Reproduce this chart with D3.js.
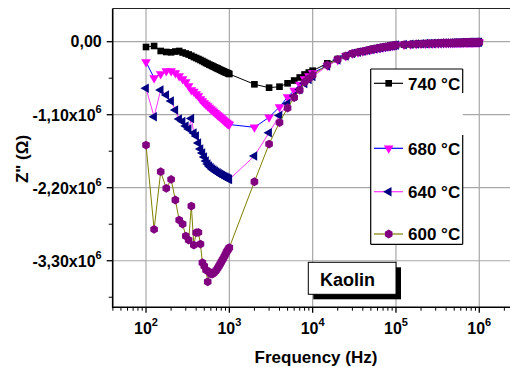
<!DOCTYPE html>
<html><head><meta charset="utf-8">
<script src="https://cdn.jsdelivr.net/npm/d3@7/dist/d3.min.js"></script>
<style>
body{margin:0;background:#fff;}
text{font-family:"Liberation Sans",Arial,sans-serif;font-weight:bold;fill:#000;}
</style></head><body>
<svg id="c" width="510" height="367"></svg>
<script>
// ---------- data (Z'' in units of 10^6 Ohm) ----------
const freqLow = [100,125,150,175,200,225,250,275,300,325,350,375,400,425,450,475,500,525,550,575,600,625,650,675,700,725,750,775,800,825,850,875,900,925,950,975,1000];
const freqMid = [2000,3000,4000,5000,6000,7000,8000,9000,10000,15000,20000];
const freqHigh = [25000,30000,35000,40000,45000,50000,55000,60000,65000,70000,75000,80000,85000,90000,95000,100000,
  125000,150000,175000,200000,225000,250000,275000,300000,325000,350000,375000,400000,425000,450000,475000,500000,
  525000,550000,575000,600000,625000,650000,675000,700000,725000,750000,775000,800000,825000,850000,875000,900000,925000,950000,975000,1000000];

const z740Low = [-0.080,-0.065,-0.140,-0.155,-0.160,-0.148,-0.140,-0.163,-0.178,-0.193,-0.212,-0.231,-0.246,-0.261,-0.276,-0.291,-0.306,-0.321,-0.333,-0.345,-0.356,-0.366,-0.377,-0.387,-0.396,-0.405,-0.414,-0.423,-0.431,-0.439,-0.446,-0.454,-0.461,-0.467,-0.473,-0.479,-0.487];
const z740Mid = [-0.642,-0.693,-0.678,-0.627,-0.585,-0.539,-0.494,-0.464,-0.437,-0.326,-0.261];

const z680Low = [-0.306,-0.547,-0.487,-0.442,-0.442,-0.472,-0.517,-0.562,-0.607,-0.668,-0.728,-0.750,-0.788,-0.818,-0.863,-0.894,-0.924,-0.946,-0.969,-0.992,-1.014,-1.034,-1.052,-1.070,-1.089,-1.105,-1.120,-1.135,-1.150,-1.165,-1.180,-1.195,-1.207,-1.219,-1.230,-1.240,-1.248];
const z680Mid = [-1.290,-1.139,-0.984,-0.833,-0.735,-0.645,-0.562,-0.517,-0.472,-0.359,-0.276];

const z640Low = [-0.702,-1.130,-0.728,-0.803,-0.894,-1.029,-1.165,-1.203,-1.270,-1.316,-1.157,-1.376,-1.421,-1.527,-1.617,-1.677,-1.737,-1.798,-1.843,-1.873,-1.896,-1.918,-1.933,-1.948,-1.963,-1.976,-1.986,-1.998,-2.009,-2.018,-2.027,-2.036,-2.043,-2.051,-2.058,-2.066,-2.074];
const z640Mid = [-1.722,-1.371,-1.112,-0.931,-0.818,-0.720,-0.630,-0.570,-0.524,-0.366,-0.276];

const z600Low = [-1.557,-2.827,-1.959,-2.209,-2.074,-2.385,-2.687,-2.747,-2.928,-2.988,-2.476,-3.064,-2.878,-2.872,-3.049,-3.330,-3.380,-3.440,-3.617,-3.470,-3.501,-3.501,-3.486,-3.463,-3.440,-3.410,-3.380,-3.350,-3.320,-3.290,-3.260,-3.230,-3.200,-3.169,-3.146,-3.124,-3.101];
const z600Mid = [-2.110,-1.542,-1.218,-0.999,-0.841,-0.728,-0.607,-0.555,-0.502,-0.351,-0.265];

// high-frequency tail where all four curves coincide
const zHigh = [-0.215,-0.178,-0.158,-0.145,-0.130,-0.118,-0.107,-0.098,-0.090,-0.083,-0.077,-0.071,-0.065,-0.060,-0.056,-0.051,
  -0.044,-0.039,-0.035,-0.032,-0.029,-0.027,-0.026,-0.024,-0.023,-0.021,-0.020,-0.020,-0.019,-0.018,-0.018,-0.017,
  -0.016,-0.015,-0.015,-0.014,-0.013,-0.012,-0.012,-0.012,-0.011,-0.011,-0.011,-0.011,-0.010,-0.009,-0.009,-0.009,-0.009,-0.008,-0.008,-0.008];

const seriesNames = ["740 °C","680 °C","640 °C","600 °C"];
const xTickValues = [1e2,1e3,1e4,1e5,1e6];
const xTickExp = ["2","3","4","5","6"];
const yTickValues = [0,-1.1,-2.2,-3.3];
const yTickLabels = ["0,00","-1,10x10","-2,20x10","-3,30x10"];
const yTickSup = ["","6","6","6"];

// ---------- build ----------
const freqs = freqLow.concat(freqMid, freqHigh);
function mk(low, mid){ const z = low.concat(mid, zHigh); return freqs.map((f,i)=>({f:f, z:z[i]})); }
const series = [
  {name:seriesNames[0], data:mk(z740Low,z740Mid), line:"#000000", fill:"#000000", shape:"square"},
  {name:seriesNames[1], data:mk(z680Low,z680Mid), line:"#0000ff", fill:"#ff00ff", shape:"down"},
  {name:seriesNames[2], data:mk(z640Low,z640Mid), line:"#ff33ff", fill:"#000080", shape:"left"},
  {name:seriesNames[3], data:mk(z600Low,z600Mid), line:"#808000", fill:"#800080", shape:"hex"}
];

const svg = d3.select("#c");
const L = 112.7, R = 512.6, T = 8.5, B = 307.2;
const x = d3.scaleLog().domain([Math.pow(10,1.6), Math.pow(10,6.4)]).range([L, R]);
const y = d3.scaleLinear().domain([0.5, -4.0]).range([T, B]);

// grid
const grid = svg.append("g").attr("stroke","#a8a8a8").attr("stroke-width",1.2);
xTickValues.forEach(v=>grid.append("line").attr("x1",x(v)).attr("x2",x(v)).attr("y1",T).attr("y2",B));
yTickValues.forEach(v=>grid.append("line").attr("x1",L).attr("x2",R).attr("y1",y(v)).attr("y2",y(v)));

// markers
function markerPath(shape){
  if(shape==="square") return d3.symbol(d3.symbolSquare, 44)();
  if(shape==="down" || shape==="left") return d3.symbol(d3.symbolTriangle, 40)();
  const p = d3.path(); const r = 4.4;
  for(let k=0;k<6;k++){ const a = Math.PI/6 + k*Math.PI/3; const px=r*Math.cos(a), py=r*Math.sin(a); if(k===0) p.moveTo(px,py); else p.lineTo(px,py);} p.closePath();
  return p.toString();
}
function rot(shape){ return shape==="down"?" rotate(180)": shape==="left"?" rotate(-90)":""; }

const lineGen = d3.line().x(d=>x(d.f)).y(d=>y(d.z));
series.forEach(s=>{
  const g = svg.append("g");
  g.append("path").datum(s.data).attr("d",lineGen).attr("fill","none").attr("stroke",s.line).attr("stroke-width",1);
  g.selectAll("path.m").data(s.data).enter().append("path").attr("class","m")
    .attr("d",markerPath(s.shape)).attr("fill",s.fill)
    .attr("transform",d=>`translate(${x(d.f)},${y(d.z)})${rot(s.shape)}`);
});

// axes
const minorX = [];
for(let e=1;e<=6;e++) for(let m=2;m<=9;m++){ const v=m*Math.pow(10,e); if(v>x.domain()[0] && v<x.domain()[1]) minorX.push(v); }
const minorY = [0.55,-0.55,-1.65,-2.75,-3.85];
const axG = svg.append("g").attr("stroke","#000");
xTickValues.forEach(v=>axG.append("line").attr("x1",x(v)).attr("x2",x(v)).attr("y1",B).attr("y2",B+5.5).attr("stroke-width",1.3));
minorX.forEach(v=>axG.append("line").attr("x1",x(v)).attr("x2",x(v)).attr("y1",B).attr("y2",B+3.5).attr("stroke-width",1));
yTickValues.forEach(v=>axG.append("line").attr("x1",L-6).attr("x2",L).attr("y1",y(v)).attr("y2",y(v)).attr("stroke-width",1.3));
minorY.filter(v=>y(v)>T && y(v)<B).forEach(v=>axG.append("line").attr("x1",L-4).attr("x2",L).attr("y1",y(v)).attr("y2",y(v)).attr("stroke-width",1));
axG.append("line").attr("x1",L).attr("x2",L).attr("y1",T).attr("y2",B+0.5).attr("stroke-width",1.6);
axG.append("line").attr("x1",L-0.5).attr("x2",R).attr("y1",B).attr("y2",B).attr("stroke-width",1.6);
axG.append("line").attr("x1",L).attr("x2",R).attr("y1",T).attr("y2",T).attr("stroke","#222").attr("stroke-width",1);

// tick labels
xTickValues.forEach((v,i)=>{
  const t = svg.append("text").attr("x",x(v)).attr("y",333.5).attr("text-anchor","middle").style("font-size","16px");
  t.append("tspan").text("10");
  t.append("tspan").attr("dy",-8).style("font-size","11px").text(xTickExp[i]);
});
yTickValues.forEach((v,i)=>{
  const t = svg.append("text").attr("x",101.7).attr("y",y(v)+5.8).attr("text-anchor","end").style("font-size","16px");
  t.append("tspan").text(yTickLabels[i]);
  if(yTickSup[i]) t.append("tspan").attr("dy",-8).style("font-size","11px").text(yTickSup[i]);
});

// axis titles
svg.append("text").attr("x",316).attr("y",363).attr("text-anchor","middle").style("font-size","17px").text("Frequency (Hz)");
svg.append("text").attr("transform","translate(27.5,159) rotate(-90)").attr("text-anchor","middle").style("font-size","17px").text("Z\" (\u03A9)");

// legend
const lg = svg.append("g");
const lx0=370.7, ly0=69, lx1=462.7, ly1=244.3;
lg.append("rect").attr("x",lx0).attr("y",ly0).attr("width",lx1-lx0).attr("height",ly1-ly0).attr("fill","#fff");
[[lx0,ly0,lx1,ly0],[lx0,ly0,lx0,ly1],[lx0,ly1,lx1,ly1],[lx1,ly0,lx1,93],[lx1,135,lx1,ly1]].forEach(s=>
  lg.append("line").attr("x1",s[0]).attr("y1",s[1]).attr("x2",s[2]).attr("y2",s[3]).attr("stroke","#000").attr("stroke-width",1.2));
const legY = [83.3,148.3,191.7,234];
series.forEach((s,i)=>{
  lg.append("line").attr("x1",374).attr("x2",403).attr("y1",legY[i]).attr("y2",legY[i]).attr("stroke",s.line).attr("stroke-width",1.2);
  lg.append("path").attr("d",markerPath(s.shape)).attr("fill",s.fill).attr("transform",`translate(388.7,${legY[i]})${rot(s.shape)}`);
  lg.append("text").attr("x",408).attr("y",legY[i]+6.2).style("font-size","17px").text(s.name);
});

// Kaolin label
svg.append("rect").attr("x",313.3).attr("y",267.3).attr("width",87.7).attr("height",32).attr("fill","#000");
svg.append("rect").attr("x",308.3).attr("y",262.3).attr("width",87.7).attr("height",32).attr("fill","#fff").attr("stroke","#000").attr("stroke-width",1);
svg.append("text").attr("x",320).attr("y",286).style("font-size","18px").text("Kaolin");
</script>
</body></html>
